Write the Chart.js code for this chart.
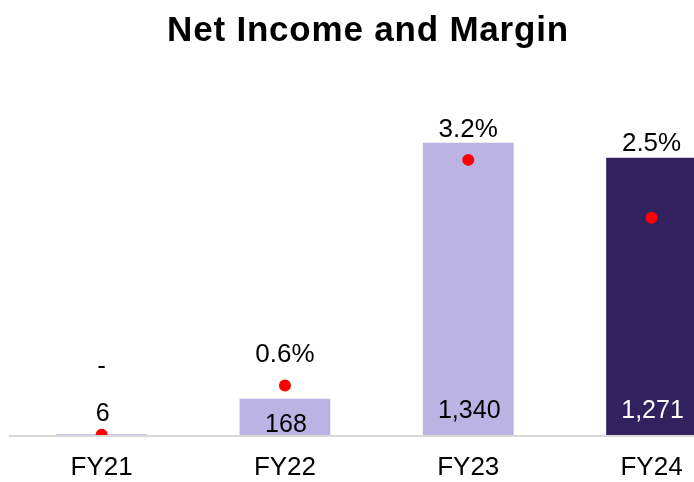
<!DOCTYPE html>
<html>
<head>
<meta charset="utf-8">
<script src="https://cdn.jsdelivr.net/npm/chart.js@4/dist/chart.umd.min.js"></script>
<style>
  html, body { margin: 0; padding: 0; overflow: hidden; background: #ffffff; width: 694px; height: 482px; }
  #wrap { position: relative; width: 760px; height: 482px; }
  #title {
    position: absolute; left: 0; top: 11px; width: 736px; text-align: center;
    font-family: "Liberation Sans", Arial, sans-serif; font-weight: bold; font-size: 35px;
    line-height: 35px; letter-spacing: 0.8px; color: #000; white-space: nowrap;
  }
  canvas { position: absolute; left: 0; top: 0; }
</style>
</head>
<body>
<div id="wrap">
  <canvas id="c" width="760" height="482"></canvas>
  <div id="title">Net Income and Margin</div>
</div>
<script>
const categories = ['FY21', 'FY22', 'FY23', 'FY24'];
const netIncome = [6, 168, 1340, 1271];
const marginPct = [0.01, 0.58, 3.19, 2.52];
const marginLabels = ['-', '0.6%', '3.2%', '2.5%'];
const valueLabels = netIncome.map(v => v.toLocaleString('en-US'));

const barColors = ['#BBB3E3', '#BBB3E3', '#BBB3E3', '#31225F'];
const valueLabelColors = ['#000000', '#000000', '#000000', '#FFFFFF'];

const labelPlugin = {
  id: 'labelPlugin',
  afterDatasetsDraw(chart, args, opts) {
    const ctx = chart.ctx;
    const xs = chart.scales.x;
    const ys = chart.scales.y;
    ctx.save();
    ctx.textAlign = 'center';
    ctx.textBaseline = 'alphabetic';
    const base = ys.getPixelForValue(0);
    categories.forEach((c, i) => {
      const x = xs.getPixelForValue(i);
      const top = ys.getPixelForValue(netIncome[i]);
      ctx.fillStyle = '#000000';
      ctx.font = '26px "Liberation Sans", Arial, sans-serif';
      ctx.fillText(marginLabels[i], x, top - opts.marginGap[i]);
      ctx.fillStyle = valueLabelColors[i];
      ctx.font = '25px "Liberation Sans", Arial, sans-serif';
      ctx.fillText(valueLabels[i], x + 1, base - opts.valueLift[i]);
    });
    ctx.restore();
  }
};

new Chart(document.getElementById('c'), {
  data: {
    labels: categories,
    datasets: [
      {
        type: 'line',
        label: 'Margin',
        data: marginPct,
        yAxisID: 'y1',
        showLine: false,
        pointRadius: 6,
        pointHoverRadius: 6,
        pointBackgroundColor: '#FF0000',
        pointBorderWidth: 0,
        borderColor: '#FF0000',
        order: 1
      },
      {
        type: 'bar',
        label: 'Net Income',
        data: netIncome,
        yAxisID: 'y',
        backgroundColor: barColors,
        borderWidth: 0,
        categoryPercentage: 1.0,
        barPercentage: 0.495,
        order: 2
      }
    ]
  },
  options: {
    responsive: false,
    animation: false,
    events: [],
    layout: { padding: { left: 10, right: 16.8, top: 42.2, bottom: 0 } },
    plugins: {
      legend: { display: false },
      tooltip: { enabled: false },
      title: { display: false },
      labelPlugin: {
        marginGap: [60, 36.7, 5.4, 7],
        valueLift: [14.5, 3.8, 17.2, 17.2]
      }
    },
    scales: {
      x: {
        grid: { display: false, drawTicks: false },
        border: { display: true, color: '#D9D9D9', width: 2, z: 1 },
        ticks: {
          color: '#000000',
          padding: 17,
          font: { family: '"Liberation Sans", Arial, sans-serif', size: 26 }
        },
        afterFit(scale) { scale.height = 46.5; }
      },
      y: { display: false, min: 0, max: 1800 },
      y1: { display: false, min: 0, max: 4.552, position: 'right' }
    }
  },
  plugins: [labelPlugin]
});
</script>
</body>
</html>
